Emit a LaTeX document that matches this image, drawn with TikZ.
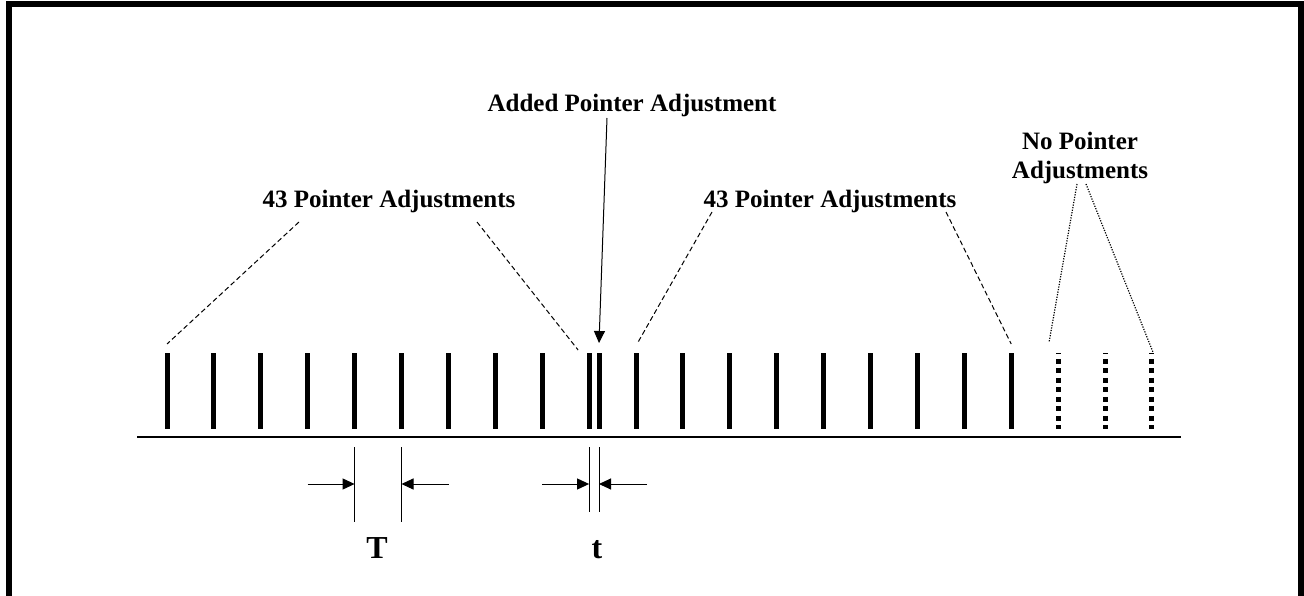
\documentclass[tikz,border=0pt]{standalone}
\usepackage{fontspec}
\setmainfont{Liberation Serif}
\usetikzlibrary{arrows.meta,positioning,calc}
\tikzset{
  lbl/.style={font=\fontsize{25}{29.5}\selectfont\bfseries, inner sep=0pt, align=center},
  big/.style={font=\fontsize{32}{36}\selectfont\bfseries, inner sep=0pt},
  bar/.style={line width=5pt},
  nbar/.style={line width=5pt, dash pattern=on 4.75pt off 4.75pt, dash phase=3.75pt},
  tick/.style={line width=1pt},
  arr/.style={-{Triangle[length=12pt,width=11pt]}, line width=1pt},
  lead/.style={line width=1pt, dash pattern=on 5pt off 3pt},
  dlead/.style={line width=1.2pt, dash pattern=on 1.2pt off 1.4pt},
}

\begin{document}
\begin{tikzpicture}[x=1pt,y=-1pt]
\useasboundingbox (0,0) rectangle (1304,596);

% frame
\draw[line width=6pt] (9,610) -- (9,4) -- (1301,4) -- (1301,610);

% time axis
\draw[line width=1.5pt] (137,437) coordinate (ax0) -- (1181,437) coordinate (ax1);

% pointer adjustments
\foreach \i in {0,...,18}{
  \coordinate (t\i) at ({167+46.9*\i},353);
  \draw[bar] (t\i) -- ++(0,76) coordinate (b\i);
}
\coordinate (tx) at (599,353);
\draw[bar] (tx) -- ++(0,76) coordinate (bx);
\foreach \i in {19,20,21}{
  \coordinate (t\i) at ({167+46.9*\i},353);
  \draw[nbar] (t\i) -- ++(0,76) coordinate (b\i);
}

% labels
\node[lbl, anchor=base] (lab1) at (389,208) {43 Pointer Adjustments};
\node[lbl, anchor=base] (lab2) at (830,208) {43 Pointer Adjustments};
\node[lbl, anchor=base] (lab3) at (632,112) {Added Pointer Adjustment};
\node[lbl, anchor=base] (lab4) at (1080,179) {No Pointer\\Adjustments};

\draw[lead] ($(lab1.base)+(-90,14)$) -- ($(t0)+(0,-9)$);
\draw[lead] ($(lab1.base)+(88,14)$) -- ($(t9)+(-11,-3)$);
\draw[lead] ($(lab2.base)+(-118,4)$) -- ($(t10)+(1,-9)$);
\draw[lead] ($(lab2.base)+(116,4)$) -- ($(t18)+(0,-9)$);
\draw[dlead] ($(lab4.base)+(-3,5)$) -- ($(t19)+(-9,-11)$);
\draw[dlead] ($(lab4.base)+(6,5)$) -- ($(t21)+(1,-1)$);
\draw[arr] ($(lab3.base)+(-25,6)$) -- ($(tx)+(0,-10)$);

% spacing T
\draw[tick] ($(b4)+(0,18)$) -- ($(b4)+(0,93)$);
\draw[tick] ($(b5)+(0,18)$) -- ($(b5)+(0,93)$);
\coordinate (Ta) at ($(b4)+(0,55)$);
\coordinate (Tb) at ($(b5)+(0,55)$);
\draw[arr] ($(Ta)+(-47,0)$) -- (Ta);
\draw[arr] ($(Tb)+(47,0)$) -- (Tb);
\node[big, anchor=base] (labT) at (377,558) {T};

% spacing t
\draw[tick] ($(b9)+(0,18)$) -- ($(b9)+(0,83)$);
\draw[tick] ($(bx)+(0,18)$) -- ($(bx)+(0,83)$);
\coordinate (ta) at ($(b9)+(0,55)$);
\coordinate (tb) at ($(bx)+(0,55)$);
\draw[arr] ($(ta)+(-47,0)$) -- (ta);
\draw[arr] ($(tb)+(48,0)$) -- (tb);
\node[big, anchor=base] (labt) at (597,558) {t};

\end{tikzpicture}
\end{document}
